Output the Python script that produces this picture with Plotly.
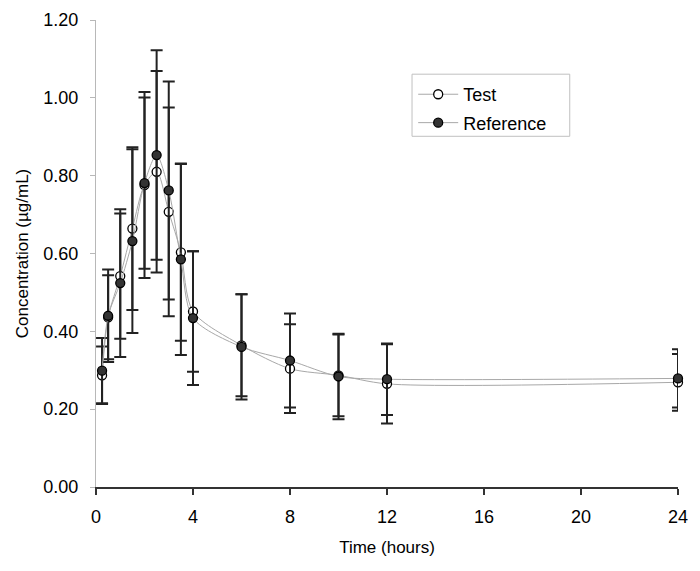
import plotly.graph_objects as go

# sampling times (hours)
time_h = [0.25, 0.5, 1, 1.5, 2, 2.5, 3, 3.5, 4, 6, 8, 10, 12, 24]

# mean concentration (ug/mL) and SD
test_mean = [0.287, 0.436, 0.542, 0.664, 0.776, 0.810, 0.707, 0.603, 0.451, 0.364, 0.304, 0.287, 0.265, 0.269]
test_sd = [0.074, 0.108, 0.161, 0.209, 0.239, 0.259, 0.268, 0.227, 0.155, 0.131, 0.114, 0.105, 0.102, 0.073]

ref_mean = [0.299, 0.440, 0.524, 0.632, 0.781, 0.853, 0.762, 0.585, 0.434, 0.360, 0.325, 0.284, 0.277, 0.279]
ref_sd = [0.084, 0.119, 0.190, 0.236, 0.220, 0.269, 0.280, 0.246, 0.172, 0.135, 0.121, 0.110, 0.092, 0.075]

x_ticks = [0, 4, 8, 12, 16, 20, 24]
y_ticks = [0.0, 0.2, 0.4, 0.6, 0.8, 1.0, 1.2]

FONT = "Arial, Liberation Sans, sans-serif"

fig = go.Figure()

for name, mean, sd, fill in [
    ("Test", test_mean, test_sd, "white"),
    ("Reference", ref_mean, ref_sd, "#333333"),
]:
    fig.add_trace(go.Scatter(
        x=time_h, y=mean, name=name, legendgroup=name,
        mode="lines+markers",
        line=dict(color="#a8a8a8", width=1, shape="spline", smoothing=0.8),
        marker=dict(size=9, color=fill, line=dict(color="black", width=1.3)),
        error_y=dict(type="data", array=sd, visible=True,
                     color="#222222", thickness=2, width=6),
        cliponaxis=False,
    ))

# legend frame is wider than plotly's own box, so draw it as a shape
fig.add_shape(type="rect", xref="paper", yref="paper",
              x0=0.543, x1=0.814, y0=0.751, y1=0.884,
              line=dict(color="#c0c0c0", width=1),
              fillcolor="rgba(0,0,0,0)", layer="above")

# page body has an 8px margin, so margins are shifted by 8
fig.update_layout(
    width=700, height=571,
    margin=dict(l=88, r=30, t=12, b=92),
    plot_bgcolor="white", paper_bgcolor="white",
    font=dict(family=FONT, size=17, color="black"),
    showlegend=True,
    legend=dict(
        x=0.545, y=0.88, xanchor="left", yanchor="top",
        bgcolor="rgba(0,0,0,0)", borderwidth=0,
        font=dict(size=18), itemwidth=40,
        traceorder="grouped", tracegroupgap=2,
    ),
    xaxis=dict(
        range=[0, 24], tickvals=x_ticks, ticktext=[str(v) for v in x_ticks],
        showgrid=False, zeroline=False, automargin=False,
        showline=True, linecolor="#333333", linewidth=2,
        ticks="outside", ticklen=6, tickwidth=2, tickcolor="#333333",
        ticklabelstandoff=6, tickfont=dict(size=18),
        title=dict(text="Time (hours)", font=dict(size=17), standoff=16),
    ),
    yaxis=dict(
        range=[0, 1.2], tickvals=y_ticks, ticktext=[f"{v:.2f}" for v in y_ticks],
        showgrid=False, zeroline=False, automargin=False,
        showline=True, linecolor="#b8b8b8", linewidth=1,
        ticks="outside", ticklen=5, tickwidth=1, tickcolor="#b8b8b8",
        ticklabelstandoff=8, tickfont=dict(size=18),
        title=dict(text="Concentration (µg/mL)", font=dict(size=17), standoff=10),
    ),
)

fig.write_html("out.html")
